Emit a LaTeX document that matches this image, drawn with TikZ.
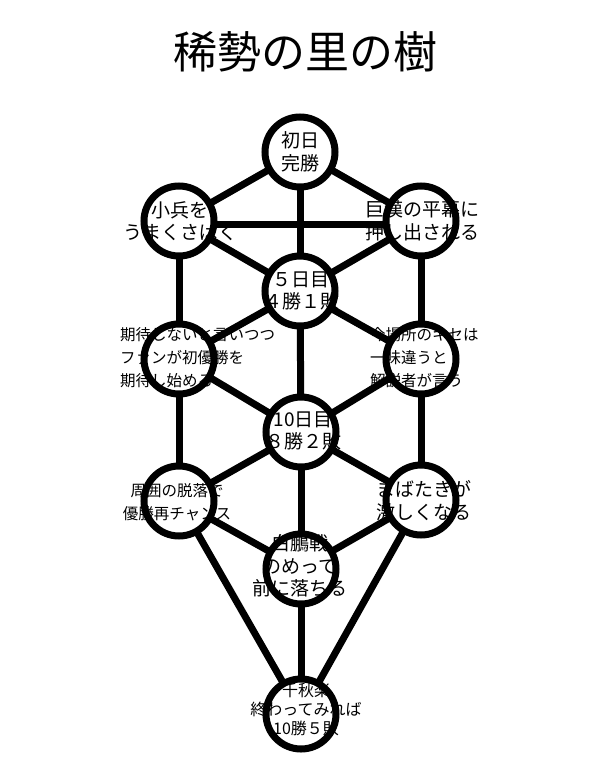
\documentclass[tikz,border=0pt]{standalone}
\usepackage{fontspec}
\setmainfont{Noto Sans CJK JP}
\usetikzlibrary{backgrounds}
\begin{document}
\begin{tikzpicture}[x=1pt,y=-1pt,
  sephira/.style={circle, draw, line width=7pt, fill=white, minimum size=70pt, inner sep=0pt},
  conn/.style={line width=7pt},
  bigtxt/.style={font=\fontsize{19}{22.5}\selectfont, align=center, inner sep=0pt},
  smalltxt/.style={font=\fontsize{15.5}{23}\selectfont, inner sep=0pt},
  lasttxt/.style={font=\fontsize{16}{19}\selectfont, align=center, inner sep=0pt}
]
\useasboundingbox (0,0) rectangle (599,766);
\node[font=\fontsize{44}{50}\selectfont, inner sep=0pt] (title) at (305,52) {稀勢の里の樹};
% sephirot
\node[sephira] (A) at (300,152) {};
\node[sephira] (B) at (179,221) {};
\node[sephira] (C) at (421,221) {};
\node[sephira] (D) at (300,291) {};
\node[sephira] (E) at (179,359) {};
\node[sephira] (F) at (421,359) {};
\node[sephira] (G) at (301,432) {};
\node[sephira] (H) at (179,501) {};
\node[sephira] (I) at (421,500) {};
\node[sephira] (J) at (301,569) {};
\node[sephira] (K) at (301,714) {};
% paths
\begin{scope}[on background layer]
\foreach \a/\b in {A/B,A/C,A/D,B/D,C/D,B/E,C/F,D/E,D/F,D/G,E/G,F/G,E/H,F/I,G/H,G/I,G/J,H/J,I/J,H/K,I/K,J/K}
  \draw[conn] (\a.center) -- (\b.center);
\draw[conn] ([yshift=-3pt]B.center) -- ([yshift=-3pt]C.center);
\end{scope}
% texts
\node[bigtxt] (tA) at (300,152) {初日\\完勝};
\node[bigtxt] (tB) at (180,221) {小兵を\\うまくさばく};
\node[bigtxt] (tC) at (422,221) {巨漢の平幕に\\押し出される};
\node[bigtxt] (tD) at (301,291) {５日目\\４勝１敗};
\node[smalltxt, align=left, anchor=west] (tE) at (120,358) {期待しないと言いつつ\\ファンが初優勝を\\期待し始める};
\node[smalltxt, align=left, anchor=west] (tF) at (370,358) {今場所のキセは\\一味違うと\\解説者が言う};
\node[bigtxt] (tG) at (303,431) {10日目\\８勝２敗};
\node[smalltxt, align=center] (tH) at (177,502) {周囲の脱落で\\優勝再チャンス};
\node[bigtxt] (tI) at (424,501) {まばたきが\\激しくなる};
\node[bigtxt] (tJ) at (300,566) {白鵬戦\\のめって\\前に落ちる};
\node[lasttxt] (tK) at (306,709) {千秋楽\\終わってみれば\\10勝５敗};
\end{tikzpicture}
\end{document}
